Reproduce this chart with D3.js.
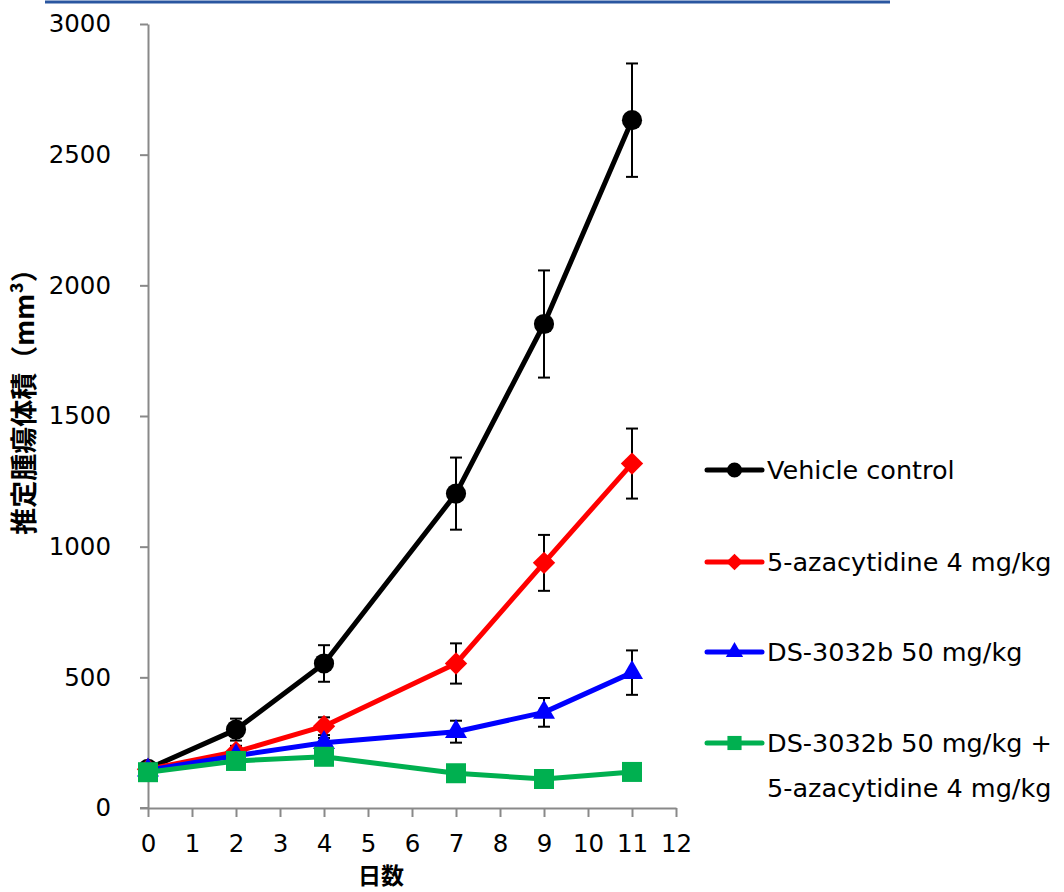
<!DOCTYPE html>
<html><head><meta charset="utf-8">
<script src="https://cdn.jsdelivr.net/npm/d3@7"></script>
<style>body{margin:0;background:#fff}svg{display:block}</style>
</head><body>
<svg id="c" width="1064" height="892"></svg>
<script>
const days = [0, 2, 4, 7, 9, 11];
const seriesNames = ["Vehicle control", "5-azacytidine 4 mg/kg", "DS-3032b 50 mg/kg", "DS-3032b 50 mg/kg +|5-azacytidine 4 mg/kg"];
const vehicle = [150, 300, 553, 1203, 1852, 2632];
const vehicleErr = [10, 42, 70, 138, 205, 217];
const aza = [148, 215, 313, 553, 938, 1318];
const azaErr = [8, 23, 34, 77, 107, 134];
const ds = [145, 200, 250, 292, 366, 518];
const dsErr = [8, 12, 18, 42, 55, 85];
const combo = [137, 180, 196, 133, 111, 138];
const comboErr = [8, 10, 12, 10, 8, 10];
const xTicks = [0,1,2,3,4,5,6,7,8,9,10,11,12];
const yTicks = [0,500,1000,1500,2000,2500,3000];
const xTitle = "日数";
const yTitle = "推定腫瘍体積（mm³）";

const colors = ["#000000", "#ff0000", "#0000ff", "#00b050"];
const shapes = [d3.symbolCircle, d3.symbolSquare, d3.symbolTriangle, d3.symbolSquare];
const rotations = [0, 45, 0, 0];
const vals = [vehicle, aza, ds, combo];
const errs = [vehicleErr, azaErr, dsErr, comboErr];

const svg = d3.select("#c");
const font = "'DejaVu Sans', Verdana, sans-serif";

svg.append("line").attr("x1",45).attr("x2",890).attr("y1",2).attr("y2",2)
  .attr("stroke","#2a56a0").attr("stroke-width",3);

const x = d3.scaleLinear().domain([0,12]).range([148,676]);
const y = d3.scaleLinear().domain([0,3000]).range([808,24]);

const axisColor = "#898989";
const gx = svg.append("g").attr("transform","translate(0,808)")
  .call(d3.axisBottom(x).tickValues(xTicks).tickFormat(d3.format("d")).tickSize(9).tickSizeOuter(0).tickPadding(18));
const gy = svg.append("g").attr("transform","translate(148,0)")
  .call(d3.axisLeft(y).tickValues(yTicks).tickFormat(d3.format("d")).tickSize(8).tickSizeOuter(0).tickPadding(29));
[gx, gy].forEach(g => {
  g.select(".domain").attr("stroke", axisColor).attr("stroke-width", 2);
  g.selectAll(".tick line").attr("stroke", axisColor).attr("stroke-width", 2);
  g.selectAll(".tick text").attr("fill","#000").style("font-family",font).style("font-size","24.5px");
});
svg.append("line").attr("x1",140).attr("x2",148).attr("y1",808).attr("y2",808)
  .attr("stroke",axisColor).attr("stroke-width",2);

svg.append("text").attr("x",381).attr("y",884).attr("text-anchor","middle")
  .style("font-family","'Noto Sans CJK JP', sans-serif").style("font-weight","bold").style("font-size","23px")
  .text(xTitle);
svg.append("text").attr("transform","translate(34,395) rotate(-90)").attr("text-anchor","middle")
  .style("font-family","'Noto Sans CJK JP', sans-serif").style("font-weight","bold").style("font-size","27px")
  .text(yTitle);

vals.forEach((v, si) => {
  const g = svg.append("g");
  v.forEach((val, i) => {
    const e = errs[si][i];
    const cx = x(days[i]);
    g.append("line").attr("x1",cx).attr("x2",cx).attr("y1",y(val+e)).attr("y2",y(val-e))
      .attr("stroke","#000").attr("stroke-width",2);
    [val+e, val-e].forEach(t => g.append("line").attr("x1",cx-6).attr("x2",cx+6)
      .attr("y1",y(t)).attr("y2",y(t)).attr("stroke","#000").attr("stroke-width",2));
  });
});

const line = d3.line().x((d,i)=>x(days[i])).y(d=>y(d));
const markerSize = [320, 250, 210, 400];
vals.forEach((v, si) => {
  svg.append("path").datum(v).attr("d", line).attr("fill","none")
    .attr("stroke", colors[si]).attr("stroke-width",5).attr("stroke-linejoin","round");
  svg.selectAll(null).data(v).enter().append("path")
    .attr("transform",(d,i)=>`translate(${x(days[i])},${y(d)}) rotate(${rotations[si]})`)
    .attr("d", d3.symbol().type(shapes[si]).size(markerSize[si]))
    .attr("fill", colors[si]);
});

const legY = [470, 562, 652, 743];
const legMarker = [180, 140, 130, 200];
seriesNames.forEach((name, si) => {
  const g = svg.append("g").attr("transform", `translate(0,${legY[si]})`);
  g.append("line").attr("x1",707).attr("x2",762).attr("y1",0).attr("y2",0)
    .attr("stroke",colors[si]).attr("stroke-width",5).attr("stroke-linecap","round");
  g.append("path").attr("transform",`translate(734.5,0) rotate(${rotations[si]})`)
    .attr("d", d3.symbol().type(shapes[si]).size(legMarker[si])).attr("fill",colors[si]);
  const parts = name.split("|");
  parts.forEach((p, k) => {
    g.append("text").attr("x",767).attr("y", k*45).attr("dy","0.35em")
      .style("font-family",font).style("font-size","25.5px").attr("fill","#000").text(p);
  });
});
</script>
</body></html>
